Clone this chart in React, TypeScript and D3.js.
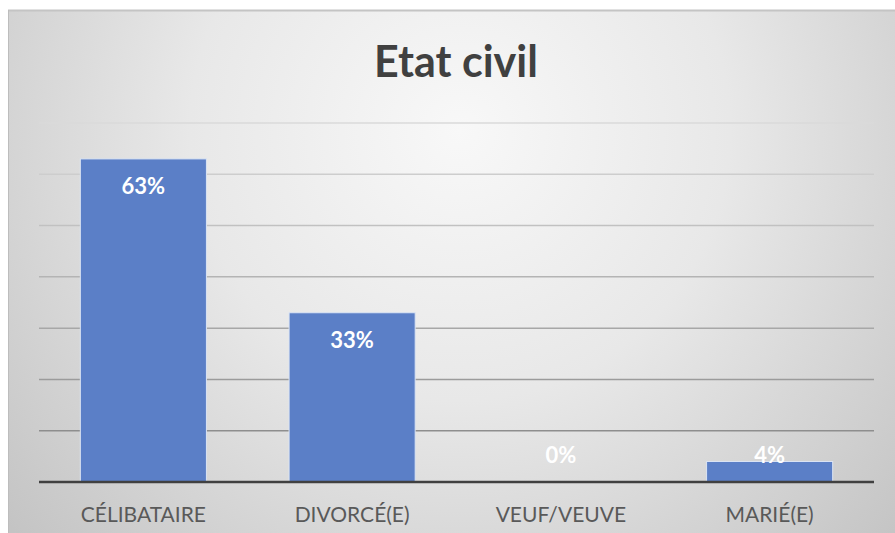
import React from "react";
import * as d3 from "d3";

const categories = ["CÉLIBATAIRE", "DIVORCÉ(E)", "VEUF/VEUVE", "MARIÉ(E)"];
const values = [0.63, 0.33, 0, 0.04];
const labels = ["63%", "33%", "0%", "4%"];
const gridTicks = [0.1, 0.2, 0.3, 0.4, 0.5, 0.6, 0.7];
const title = "Etat civil";

const W = 895;
const H = 533;
const FONT = "Lato, 'Open Sans', sans-serif";

export default function App() {
  const x = d3.scaleBand<string>().domain(categories).range([39, 874]).padding(0);
  const y = d3.scaleLinear().domain([0, 0.7]).range([482, 123]);
  const barW = x.bandwidth() * 0.604;
  const gridColor = d3.interpolateRgb("#8e8e8e", "#dadada");

  return (
    <svg
      width={W}
      height={H}
      style={{ position: "absolute", left: 0, top: 0, display: "block" }}
    >
      <defs>
        <radialGradient id="bg" gradientUnits="userSpaceOnUse" cx={460} cy={130} r={600}>
          <stop offset="0" stopColor="#f8f8f8" />
          <stop offset="0.45" stopColor="#e8e8e8" />
          <stop offset="1" stopColor="#c4c4c4" />
        </radialGradient>
      </defs>
      <rect x={0} y={0} width={W} height={H} fill="#ffffff" />
      <rect x={8} y={10} width={W - 8} height={H - 10} fill="url(#bg)" />
      <line x1={8} x2={W} y1={10.5} y2={10.5} stroke="#c4c4c4" strokeWidth={2} />
      <line x1={8.5} x2={8.5} y1={10} y2={H} stroke="#bdbdbd" strokeWidth={1} />

      <text
        x={456}
        y={77}
        textAnchor="middle"
        fontFamily={FONT}
        fontWeight={700}
        fontSize={43}
        fill="#404040"
      >
        {title}
      </text>

      {gridTicks.map((t, i) => (
        <line
          key={t}
          x1={39}
          x2={874}
          y1={y(t)}
          y2={y(t)}
          stroke={gridColor(i / (gridTicks.length - 1))}
          strokeWidth={1.5}
        />
      ))}

      {categories.map((c, i) => {
        const cx = (x(c) as number) + x.bandwidth() / 2;
        return (
          <rect
            key={c}
            x={cx - barW / 2}
            y={y(values[i])}
            width={barW}
            height={y(0) - y(values[i])}
            fill="#5b7fc7"
            stroke="#dbe4f4"
            strokeWidth={1}
            opacity={values[i] > 0 ? 1 : 0}
          />
        );
      })}

      <line x1={39} x2={874} y1={y(0)} y2={y(0)} stroke="#404040" strokeWidth={2.5} />

      {categories.map((c, i) => {
        const cx = (x(c) as number) + x.bandwidth() / 2;
        const ly = Math.min(y(values[i]) + 35, y(0) - 19);
        return (
          <text
            key={c + "l"}
            x={cx}
            y={ly}
            textAnchor="middle"
            fontFamily={FONT}
            fontWeight={700}
            fontSize={22}
            fill="#ffffff"
          >
            {labels[i]}
          </text>
        );
      })}

      {categories.map((c) => {
        const cx = (x(c) as number) + x.bandwidth() / 2;
        return (
          <text
            key={c + "c"}
            x={cx}
            y={522}
            textAnchor="middle"
            fontFamily={FONT}
            fontSize={21}
            fill="#595959"
          >
            {c}
          </text>
        );
      })}
    </svg>
  );
}
